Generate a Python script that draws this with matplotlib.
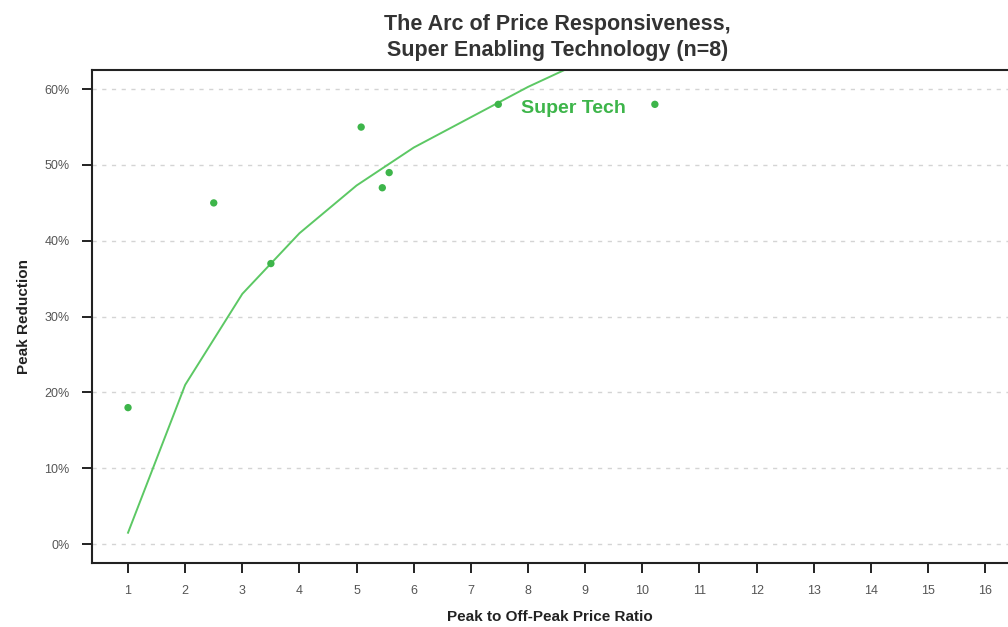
import matplotlib.pyplot as plt
from matplotlib.ticker import FuncFormatter

# observed pilot results (price ratio, peak reduction %)
ratio = [1.0, 2.5, 3.5, 5.08, 5.45, 5.57, 7.48, 10.22]
reduction = [18.0, 45.0, 37.0, 55.0, 47.0, 49.0, 58.0, 58.0]

arc_x = [1, 2, 3, 4, 5, 6, 7, 8, 9]
arc_y = [1.5, 21.0, 33.0, 41.0, 47.3, 52.3, 56.3, 60.3, 63.8]

x_ticks = list(range(1, 17))
y_ticks = [0, 10, 20, 30, 40, 50, 60]

green = "#3db54a"
line_green = "#5cc864"

plt.rcParams["font.family"] = ["Liberation Sans", "DejaVu Sans"]

fig = plt.figure(figsize=(10.08, 6.27), dpi=100)
ax = fig.add_axes([0.0913, 0.102, 0.9087, 0.786])

ax.plot(arc_x, arc_y, color=line_green, lw=1.4, zorder=2)
ax.scatter(ratio, reduction, s=28, color=green, zorder=3, edgecolors="none")
ax.text(7.88, 57.5, "Super Tech", color=green, fontsize=14, fontweight="bold",
        va="center", ha="left")

ax.set_xlim(0.37, 16.4)
ax.set_ylim(-2.5, 62.5)
ax.set_xticks(x_ticks)
ax.set_yticks(y_ticks)
ax.yaxis.set_major_formatter(FuncFormatter(lambda v, p: f"{v:.0f}%"))
ax.tick_params(direction="out", length=7, width=1.4, color="#222222",
               labelsize=9, labelcolor="#555555", pad=9)
ax.grid(axis="y", linestyle=(0, (3, 4)), color="#d4d4d4", lw=1)
ax.set_axisbelow(True)

for side in ["left", "top", "bottom"]:
    ax.spines[side].set_linewidth(1.5)
    ax.spines[side].set_color("#222222")
ax.spines["right"].set_visible(False)

ax.set_xlabel("Peak to Off-Peak Price Ratio", fontsize=11, fontweight="bold",
              color="#222222", labelpad=9)
ax.set_ylabel("Peak Reduction", fontsize=11, fontweight="bold",
              color="#222222", labelpad=10)

fig.text(0.553, 0.978, "The Arc of Price Responsiveness,\nSuper Enabling Technology (n=8)",
         ha="center", va="top", fontsize=15.5, fontweight="bold", color="#333333",
         linespacing=1.35)

fig.savefig("out.png", dpi=100)
